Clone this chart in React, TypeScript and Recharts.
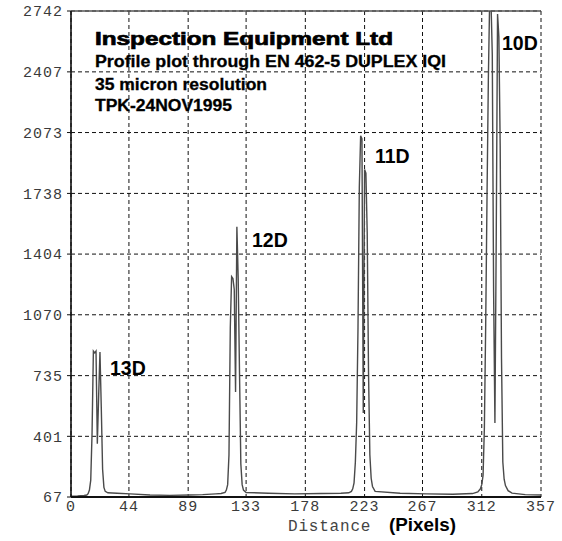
import React from 'react';
import { LineChart, Line, XAxis, YAxis, CartesianGrid, ReferenceLine } from 'recharts';

const distance = [
  0, 5, 10, 12, 13, 14, 15, 16, 17, 18, 19, 20, 21, 22, 23, 24, 25, 26, 28, 35, 45, 60, 75, 90, 100, 110, 114,
  117, 118, 119, 120, 121, 122, 123, 124, 125, 126, 127, 128, 129, 130, 131, 133, 150, 170, 190, 205, 211,
  213, 214, 215, 216, 217, 218, 219, 220, 221, 222, 223, 224, 225, 226, 227, 228, 229, 231, 250, 270, 290, 305, 309,
  311, 312, 313, 314, 315, 316, 317, 318, 319, 320, 321, 322, 323, 324, 325, 326, 327, 328, 329, 330, 332, 335, 345, 357,
];

const intensity = [
  72, 73, 75, 78, 85, 105, 160, 420, 870, 860, 870, 360, 620, 865, 560, 220, 120, 98, 90, 88, 84, 78, 76, 78, 80, 84, 86,
  92, 105, 135, 300, 1000, 1280, 1270, 1210, 645, 1555, 1270, 750, 250, 135, 105, 92, 88, 84, 86, 88, 90,
  98, 112, 145, 260, 480, 1000, 1770, 2055, 2040, 530, 1870, 1850, 1520, 750, 300, 170, 125, 98, 88, 84, 82, 86, 95,
  112, 135, 185, 450, 1020, 1720, 2360, 2800, 2800, 2500, 1200, 474, 1500, 2725, 2600, 2000, 830, 260, 165, 130, 102, 88, 80, 78,
];

const xTicks = [0, 44, 89, 133, 178, 223, 267, 312, 357];
const yTicks = [67, 401, 735, 1070, 1404, 1738, 2073, 2407, 2742];

const titleLines = [
  'Inspection Equipment Ltd',
  'Profile plot through EN 462-5 DUPLEX IQI',
  '35 micron resolution',
  'TPK-24NOV1995',
];
const peakLabels = ['13D', '12D', '11D', '10D'];
const xAxisTitle = 'Distance';
const xAxisUnit = '(Pixels)';

const data = distance.map((x, i) => ({ x, v: intensity[i] }));

const sans = 'Liberation Sans, Arial, sans-serif';
const mono = 'Liberation Mono, DejaVu Sans Mono, monospace';

export default function App() {
  return (
    <div style={{ position: 'absolute', left: 0, top: 0, width: 562, height: 541, background: '#fff' }}>
      <LineChart width={562} height={541} data={data} margin={{ top: 11, right: 21, bottom: 0, left: 0 }}>
        <CartesianGrid stroke="#111" strokeDasharray="4 3" strokeWidth={1} />
        <XAxis
          dataKey="x"
          type="number"
          domain={[0, 357]}
          ticks={xTicks}
          interval={0}
          height={44}
          tickSize={0}
          tickMargin={3}
          axisLine={{ stroke: '#111', strokeWidth: 1.8 }}
          tick={{ fontFamily: mono, fontSize: 15, fill: '#3a3a3a', letterSpacing: 1 }}
        />
        <YAxis
          type="number"
          domain={[67, 2742]}
          ticks={yTicks}
          interval={0}
          width={71}
          allowDataOverflow
          tickSize={4}
          tickMargin={4}
          axisLine={{ stroke: '#111', strokeWidth: 1.6 }}
          tickLine={{ stroke: '#111' }}
          tick={{ fontFamily: mono, fontSize: 15, fill: '#3a3a3a', letterSpacing: 1 }}
        />
        <ReferenceLine y={2742} stroke="#555" strokeWidth={1.5} />
        <Line
          dataKey="v"
          type="linear"
          stroke="#4a4a4a"
          strokeWidth={1.4}
          dot={false}
          isAnimationActive={false}
        />
      </LineChart>
      <svg
        width={562}
        height={541}
        style={{ position: 'absolute', left: 0, top: 0, pointerEvents: 'none' }}
      >
        <g fontFamily={sans} fontWeight="bold" fill="#000">
          <text x={95} y={45} fontSize={18.5} textLength={298} lengthAdjust="spacingAndGlyphs" stroke="#000" strokeWidth={0.7}>{titleLines[0]}</text>
          <text x={95} y={66.5} fontSize={16} textLength={351} lengthAdjust="spacingAndGlyphs" stroke="#000" strokeWidth={0.3}>{titleLines[1]}</text>
          <text x={95} y={89.5} fontSize={16} textLength={172} lengthAdjust="spacingAndGlyphs" stroke="#000" strokeWidth={0.3}>{titleLines[2]}</text>
          <text x={95} y={111} fontSize={16} textLength={137} lengthAdjust="spacingAndGlyphs" stroke="#000" strokeWidth={0.3}>{titleLines[3]}</text>
          <text x={110} y={375} fontSize={19.5}>{peakLabels[0]}</text>
          <text x={252} y={247} fontSize={19.5}>{peakLabels[1]}</text>
          <text x={375} y={163} fontSize={19.5}>{peakLabels[2]}</text>
          <text x={502} y={50} fontSize={19.5}>{peakLabels[3]}</text>
          <text x={389} y={530.5} fontSize={18} textLength={67} lengthAdjust="spacingAndGlyphs">{xAxisUnit}</text>
        </g>
        <text x={288} y={530.5} fontFamily={mono} fontSize={16} letterSpacing={0.8} fill="#444">{xAxisTitle}</text>
      </svg>
    </div>
  );
}
